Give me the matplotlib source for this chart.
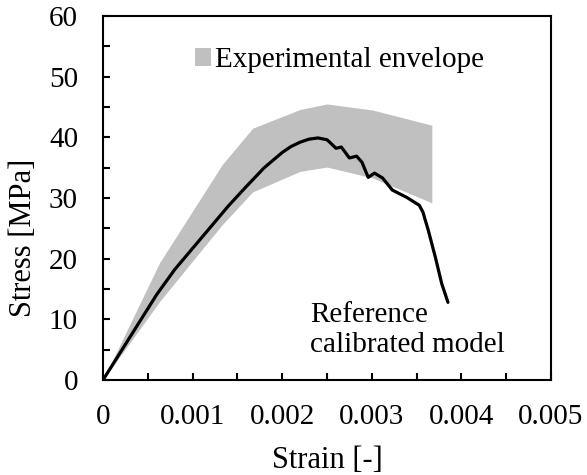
import matplotlib
matplotlib.use("Agg")
import matplotlib.pyplot as plt
from matplotlib.ticker import MultipleLocator, FuncFormatter

plt.rcParams['font.family'] = ['Liberation Serif', 'DejaVu Serif']
plt.rcParams['font.size'] = 21

# experimental envelope (upper / lower bound)
env_strain = [0, 0.00063, 0.00133, 0.00167, 0.0022, 0.0025, 0.00301, 0.00367]
env_upper = [0, 19.3, 35.5, 41.5, 44.6, 45.5, 44.5, 42.0]
env_lower = [0, 12.9, 25.6, 31.0, 34.4, 35.1, 33.3, 29.2]

# reference calibrated model
model_strain = [0, 0.0002, 0.0004, 0.0006, 0.0008, 0.001, 0.0012, 0.0014, 0.0016,
                0.0018, 0.002, 0.0021, 0.0022, 0.0023, 0.0024, 0.0025, 0.00253,
                0.0026, 0.00266, 0.00275, 0.00283, 0.00289, 0.00296, 0.00303,
                0.00312, 0.00323, 0.00339, 0.00353, 0.00357, 0.00363, 0.00371,
                0.00378, 0.00385]
model_stress = [0, 4.7, 9.4, 14.1, 18.2, 21.7, 25.2, 28.7, 31.9,
                35.0, 37.5, 38.5, 39.2, 39.7, 39.9, 39.6, 39.2,
                38.2, 38.4, 36.6, 36.9, 35.9, 33.4, 34.1,
                33.3, 31.3, 30.1, 28.8, 27.7, 24.7, 20.2,
                15.9, 12.8]

fig = plt.figure(figsize=(5.87, 4.75), dpi=100)
ax = fig.add_axes([103 / 587, 95 / 475, 448 / 587, 364 / 475])

env = ax.fill_between(env_strain, env_lower, env_upper, color='#c0c0c0',
                      linewidth=0, label='Experimental envelope')
ax.plot(model_strain, model_stress, color='black', linewidth=2.3,
        solid_joinstyle='round', solid_capstyle='round')

ax.text(0.00231, 12.9, 'Reference\ncalibrated model', ha='left', va='top',
        linespacing=1.2)

ax.set_xlim(0, 0.005)
ax.set_ylim(0, 60)
ax.xaxis.set_major_locator(MultipleLocator(0.001))
ax.xaxis.set_minor_locator(MultipleLocator(0.0005))
ax.yaxis.set_major_locator(MultipleLocator(10))
ax.yaxis.set_minor_locator(MultipleLocator(5))
ax.xaxis.set_major_formatter(FuncFormatter(lambda v, p: '0' if v == 0 else f'{v:g}'))
ax.tick_params(which='both', direction='in', length=5, width=1.5,
               top=False, right=False)
ax.tick_params(axis='x', which='major', pad=17)
ax.tick_params(axis='y', which='major', pad=18)
for s in ax.spines.values():
    s.set_linewidth(1.5)

ax.set_xlabel('Strain [-]', fontsize=22)
ax.set_ylabel('Stress [MPa]', fontsize=22)
ax.xaxis.set_label_coords(0.5, -0.222)
ax.xaxis.label.set_va('center')
ax.yaxis.set_label_coords(-0.178, 0.39)
ax.yaxis.label.set_va('center')

ax.legend(handles=[env], loc='center left', bbox_to_anchor=(0.205, 0.879),
          frameon=False, borderpad=0, borderaxespad=0, handlelength=0.55,
          handleheight=0.55, handletextpad=0.15)

fig.savefig('out.png', dpi=100)
